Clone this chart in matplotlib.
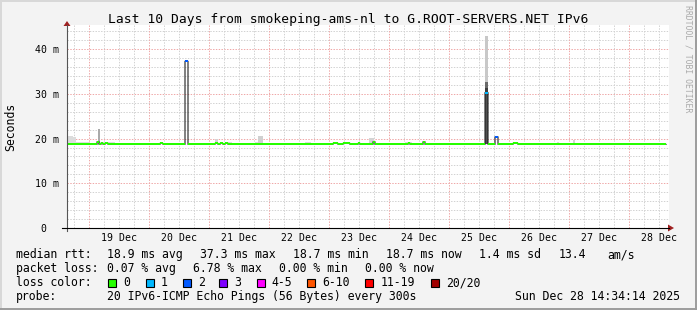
import numpy as np
import pandas as pd
import matplotlib
matplotlib.use("Agg")
import matplotlib.pyplot as plt
import matplotlib.dates as mdates
from matplotlib.patches import Rectangle, Polygon

W, H = 697, 310
plt.rcParams['font.family'] = ['DejaVu Sans Mono']

# graph window, one pixel of the rrd graph is 24 minutes
graph_start = "2025-12-18 15:04"
graph_end = "2025-12-28 15:52"
data_end = "2025-12-28 14:16"
bin_minutes = 24

baseline_ms = 18.7

# median rtt where it leaves the baseline: start, end, value (ms), loss bucket
med_start = ["2025-12-19 03:04", "2025-12-19 04:40", "2025-12-19 06:16", "2025-12-20 04:16",
             "2025-12-20 14:16", "2025-12-21 02:16", "2025-12-21 04:16", "2025-12-21 06:16",
             "2025-12-23 01:28", "2025-12-23 05:28", "2025-12-23 11:28", "2025-12-23 17:28",
             "2025-12-24 07:28", "2025-12-24 13:28", "2025-12-25 14:16", "2025-12-25 17:59",
             "2025-12-26 01:28"]
med_end = ["2025-12-19 03:52", "2025-12-19 05:28", "2025-12-19 07:28", "2025-12-20 05:28",
           "2025-12-20 15:11", "2025-12-21 03:28", "2025-12-21 05:28", "2025-12-21 07:28",
           "2025-12-23 03:28", "2025-12-23 08:16", "2025-12-23 12:16", "2025-12-23 18:16",
           "2025-12-24 08:16", "2025-12-24 14:16", "2025-12-25 15:21", "2025-12-25 19:11",
           "2025-12-26 03:28"]
med_value = [19.3, 18.95, 18.95, 18.95,
             37.3, 18.95, 18.95, 18.95,
             18.95, 18.95, 18.95, 19.3,
             18.95, 19.3, 30.3, 20.4,
             18.95]
med_loss = [0, 0, 0, 0,
            2, 0, 0, 0,
            0, 0, 0, 0,
            0, 0, 1, 2,
            0]

# smoke (spread of the 20 pings): start, end, bottom, top (ms), grey
smoke_start = ["2025-12-18 15:04", "2025-12-18 17:28", "2025-12-18 18:40", "2025-12-19 03:28",
               "2025-12-19 04:16", "2025-12-19 11:04", "2025-12-21 02:16", "2025-12-21 07:04",
               "2025-12-21 18:16", "2025-12-21 19:28", "2025-12-22 14:16", "2025-12-23 15:52",
               "2025-12-23 21:28", "2025-12-24 06:16", "2025-12-26 05:28", "2025-12-26 19:04",
               "2025-12-27 01:28",
               "2025-12-25 14:16", "2025-12-25 14:16", "2025-12-25 14:16", "2025-12-25 14:16"]
smoke_end = ["2025-12-18 17:28", "2025-12-18 18:40", "2025-12-19 00:00", "2025-12-19 04:16",
             "2025-12-19 10:16", "2025-12-19 14:16", "2025-12-21 03:28", "2025-12-21 09:04",
             "2025-12-21 19:28", "2025-12-21 21:28", "2025-12-22 16:40", "2025-12-23 17:52",
             "2025-12-23 23:28", "2025-12-24 09:04", "2025-12-26 10:16", "2025-12-26 19:52",
             "2025-12-27 02:16",
             "2025-12-25 15:21", "2025-12-25 15:21", "2025-12-25 15:21", "2025-12-25 15:21"]
smoke_bottom = [18.7] * 17 + [18.7, 30.3, 31.4, 32.7]
smoke_top = [20.6, 20.3, 19.3, 22.1,
             19.2, 19.1, 19.8, 19.2,
             19.3, 20.6, 19.2, 20.1,
             19.1, 19.2, 19.1, 19.3,
             19.6,
             30.3, 31.4, 32.7, 43.0]
smoke_grey = ["#dcdcdc", "#dcdcdc", "#dcdcdc", "#aaaaaa",
              "#dcdcdc", "#dcdcdc", "#d4d4d4", "#dcdcdc",
              "#dcdcdc", "#d0d0d0", "#dcdcdc", "#d4d4d4",
              "#dcdcdc", "#dcdcdc", "#dcdcdc", "#dcdcdc",
              "#d4d4d4",
              "#505050", "#3c3c3c", "#6a6a6a", "#c8c8c8"]

loss_labels = ["0", "1", "2", "3", "4-5", "6-10", "11-19", "20/20"]
loss_colors = ["#26ff00", "#00b8ff", "#0059ff", "#7e00ff",
               "#ff00ff", "#ff5500", "#ff0000", "#a10000"]

title = "Last 10 Days from smokeping-ams-nl to G.ROOT-SERVERS.NET IPv6"
day_labels = ["19 Dec", "20 Dec", "21 Dec", "22 Dec", "23 Dec",
              "24 Dec", "25 Dec", "26 Dec", "27 Dec", "28 Dec"]
y_ticks = [0, 10, 20, 30, 40]
y_tick_labels = ["0  ", "10 m", "20 m", "30 m", "40 m"]

stats_rtt = [("median rtt:", 16), ("18.9 ms avg", 107.3), ("37.3 ms max", 200),
             ("18.7 ms min", 293.3), ("18.7 ms now", 386), ("1.4 ms sd", 479.3),
             ("13.4", 558.3), ("am/s", 607.3)]
stats_loss = [("packet loss:", 16), ("0.07 % avg", 107.3), ("6.78 % max", 193.3),
              ("0.00 % min", 279.3), ("0.00 % now", 365)]
probe_text = "20 IPv6-ICMP Echo Pings (56 Bytes) every 300s"
stamp_text = "Sun Dec 28 14:34:14 2025"

# ---- build per-pixel series
bins = pd.date_range(graph_start, data_end, freq=f"{bin_minutes}min")
median = np.full(len(bins), baseline_ms)
loss = np.zeros(len(bins), dtype=int)
for s, e, v, l in zip(med_start, med_end, med_value, med_loss):
    m = (bins >= pd.Timestamp(s)) & (bins < pd.Timestamp(e))
    median[m] = v
    loss[m] = l

xb = mdates.date2num(bins.to_pydatetime())
dt = bin_minutes / 1440.0

fig = plt.figure(figsize=(W / 100, H / 100), dpi=100, facecolor="#f3f3f3")
ax = fig.add_axes([67 / W, (H - 228) / H, 602 / W, 203 / H])
ax.set_facecolor("white")
for sp in ax.spines.values():
    sp.set_visible(False)

x0 = mdates.date2num(pd.Timestamp(graph_start).to_pydatetime())
x1 = mdates.date2num(pd.Timestamp(graph_end).to_pydatetime())
ax.set_xlim(x0, x1)
ax.set_ylim(0, 203 / 4.47)

# grid
dots = (0, (1.4, 1.4))
for v in np.arange(2, 46, 2):
    if v % 10:
        ax.axhline(v, color="#d2d2d2", lw=0.72, ls=dots, zorder=1)
for v in [10, 20, 30, 40]:
    ax.axhline(v, color="#efa8a8", lw=0.72, ls=dots, zorder=1)
six_h = pd.date_range("2025-12-18 18:00", "2025-12-28 12:00", freq="6h")
for t in six_h:
    xv = mdates.date2num(t.to_pydatetime())
    if t.hour == 0:
        ax.axvline(xv, color="#efa8a8", lw=0.72, ls=dots, zorder=1)
    else:
        ax.axvline(xv, color="#d2d2d2", lw=0.72, ls=dots, zorder=1)

# smoke
for s, e, b, tp, c in zip(smoke_start, smoke_end, smoke_bottom, smoke_top, smoke_grey):
    m = (bins >= pd.Timestamp(s)) & (bins < pd.Timestamp(e))
    ax.bar(xb[m], tp - b, width=dt, bottom=b, align="edge", color=c,
           linewidth=0, zorder=2)

# median line and loss colour band
ax.step(np.append(xb, xb[-1] + dt), np.append(median, median[-1]), where="post",
        color="#202020", lw=0.8, zorder=3)
band = 0.23
ax.bar(xb, 2 * band, width=dt, bottom=median - band, align="edge",
       color=[loss_colors[l] for l in loss], linewidth=0, zorder=4)

# ticks
noons = pd.date_range("2025-12-19 12:00", periods=len(day_labels), freq="D")
ax.set_xticks(mdates.date2num(noons.to_pydatetime()))
ax.set_xticklabels(day_labels)
ax.set_yticks(y_ticks)
ax.set_yticklabels(y_tick_labels)
ax.tick_params(axis="x", length=0, pad=3.6, labelsize=7.1)
ax.tick_params(axis="y", length=0, pad=5.5, labelsize=7.1)

# overlay in pixel coordinates
ov = fig.add_axes([0, 0, 1, 1])
ov.set_xlim(0, W)
ov.set_ylim(H, 0)
ov.axis("off")

ov.plot([67, 67], [231, 25], color="#555555", lw=0.8)
ov.add_patch(Polygon([[63.5, 26], [70.5, 26], [67, 21]], closed=True, color="#a02020", lw=0))
ov.plot([62, 669], [228, 228], color="black", lw=0.8)
ov.add_patch(Polygon([[668, 224.5], [668, 231.5], [674, 228]], closed=True, color="#a02020", lw=0))

# frame
ov.plot([0.5, 0.5], [0, H], color="#d8d8d8", lw=1.4)
ov.plot([0, W], [0.5, 0.5], color="#d8d8d8", lw=1.4)
ov.plot([W - 1, W - 1], [0, H], color="#9c9c9c", lw=1.4)
ov.plot([0, W], [H - 1, H - 1], color="#9c9c9c", lw=1.4)

ov.text(348, 19, title, ha="center", va="center", fontsize=9.4, color="black")
ov.text(11, 127, "Seconds", rotation=90, ha="center", va="center", fontsize=8.3)
ov.text(688, 5, "RRDTOOL / TOBI OETIKER", rotation=270, ha="center", va="top",
        fontsize=5.9, color="#aaaaaa")

fs = 8.3
for txt, x in stats_rtt:
    ov.text(x, 254.5, txt, ha="left", va="center", fontsize=fs)
for txt, x in stats_loss:
    ov.text(x, 268.5, txt, ha="left", va="center", fontsize=fs)
ov.text(16, 282.5, "loss color:", ha="left", va="center", fontsize=fs)
box_x = [108.3, 145.7, 182.7, 219.3, 256.7, 307.3, 365.3, 430.7]
for bx, lab, col in zip(box_x, loss_labels, loss_colors):
    ov.add_patch(Rectangle((bx, 278.5), 8, 8, facecolor=col, edgecolor="black", lw=0.8))
    ov.text(bx + 15, 282.5, lab, ha="left", va="center", fontsize=fs)
ov.text(16, 296.5, "probe:", ha="left", va="center", fontsize=fs)
ov.text(107.3, 296.5, probe_text, ha="left", va="center", fontsize=fs)
ov.text(680, 296.5, stamp_text, ha="right", va="center", fontsize=fs)

fig.savefig("out.png", dpi=100, facecolor=fig.get_facecolor())
